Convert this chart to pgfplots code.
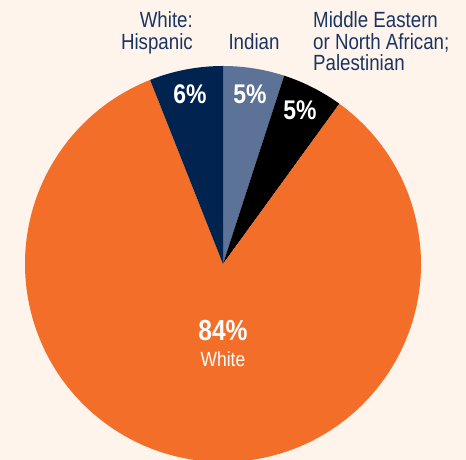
\documentclass[border=0pt]{standalone}
\usepackage{pgfplots}
\pgfplotsset{compat=1.18}
\usepackage{pgfplotstable}
\usepackage{fontspec}
\setmainfont{Liberation Sans}[FakeStretch=0.85]

\definecolor{bgcream}{HTML}{FEF4EC}
\definecolor{pieorange}{HTML}{F26E29}
\definecolor{pienavy}{HTML}{00234F}
\definecolor{pieslate}{HTML}{5C7296}
\definecolor{labnavy}{HTML}{1A3560}

% shares, clockwise from 12 o'clock
\pgfplotstableread{
label value
Indian 5
MENA 5
White 84
Hispanic 6
}\piedata

\begin{document}
\begin{tikzpicture}
\pgfplotstablegetelem{0}{value}\of\piedata \let\vA\pgfplotsretval
\pgfplotstablegetelem{1}{value}\of\piedata \let\vB\pgfplotsretval
\pgfplotstablegetelem{2}{value}\of\piedata \let\vC\pgfplotsretval
\pgfplotstablegetelem{3}{value}\of\piedata \let\vD\pgfplotsretval
\pgfmathsetmacro\aA{90}
\pgfmathsetmacro\aB{\aA-3.6*\vA}
\pgfmathsetmacro\aC{\aB-3.6*\vB}
\pgfmathsetmacro\aD{\aC-3.6*\vC}
\pgfmathsetmacro\aE{\aD-3.6*\vD}
\def\R{198pt}
\begin{axis}[
  scale only axis,
  width=466pt, height=460pt,
  xmin=0, xmax=466, ymin=0, ymax=460,
  axis line style={draw=none},
  ticks=none,
  axis background/.style={fill=bgcream},
  clip=true,
]
\fill[pieslate]  (axis cs:223,196) -- ++(\aA:\R) arc[start angle=\aA, end angle=\aB, radius=\R] -- cycle;
\fill[black]     (axis cs:223,196) -- ++(\aB:\R) arc[start angle=\aB, end angle=\aC, radius=\R] -- cycle;
\fill[pieorange] (axis cs:223,196) -- ++(\aC:\R) arc[start angle=\aC, end angle=\aD, radius=\R] -- cycle;
\fill[pienavy]   (axis cs:223,196) -- ++(\aD:\R) arc[start angle=\aD, end angle=\aE, radius=\R] -- cycle;

% values in slices
\node[text=white, font=\fontsize{27}{27}\selectfont\bfseries] at (axis cs:190,366) {6\%};
\node[text=white, font=\fontsize{27}{27}\selectfont\bfseries] at (axis cs:250,366) {5\%};
\node[text=white, font=\fontsize{27}{27}\selectfont\bfseries] at (axis cs:300,350) {5\%};
\node[text=white, font=\fontsize{29}{29}\selectfont\bfseries] at (axis cs:223,129) {84\%};
\node[text=white, font=\fontsize{20.5}{20.5}\selectfont] at (axis cs:223,101) {White};

% category labels above
\begin{scope}[every node/.style={text=labnavy, inner sep=0pt, font=\fontsize{22}{22}\selectfont}]
\node[anchor=base east] at (axis cs:193,432) {White:};
\node[anchor=base east] at (axis cs:193,410) {Hispanic};
\node[anchor=base] at (axis cs:254,410) {Indian};
\node[anchor=base west] at (axis cs:313,432) {Middle Eastern};
\node[anchor=base west] at (axis cs:313,410) {or North African;};
\node[anchor=base west] at (axis cs:313,389) {Palestinian};
\end{scope}
\end{axis}
\pgfresetboundingbox
\path (current axis.south west) rectangle (current axis.north east);
\end{tikzpicture}
\end{document}
